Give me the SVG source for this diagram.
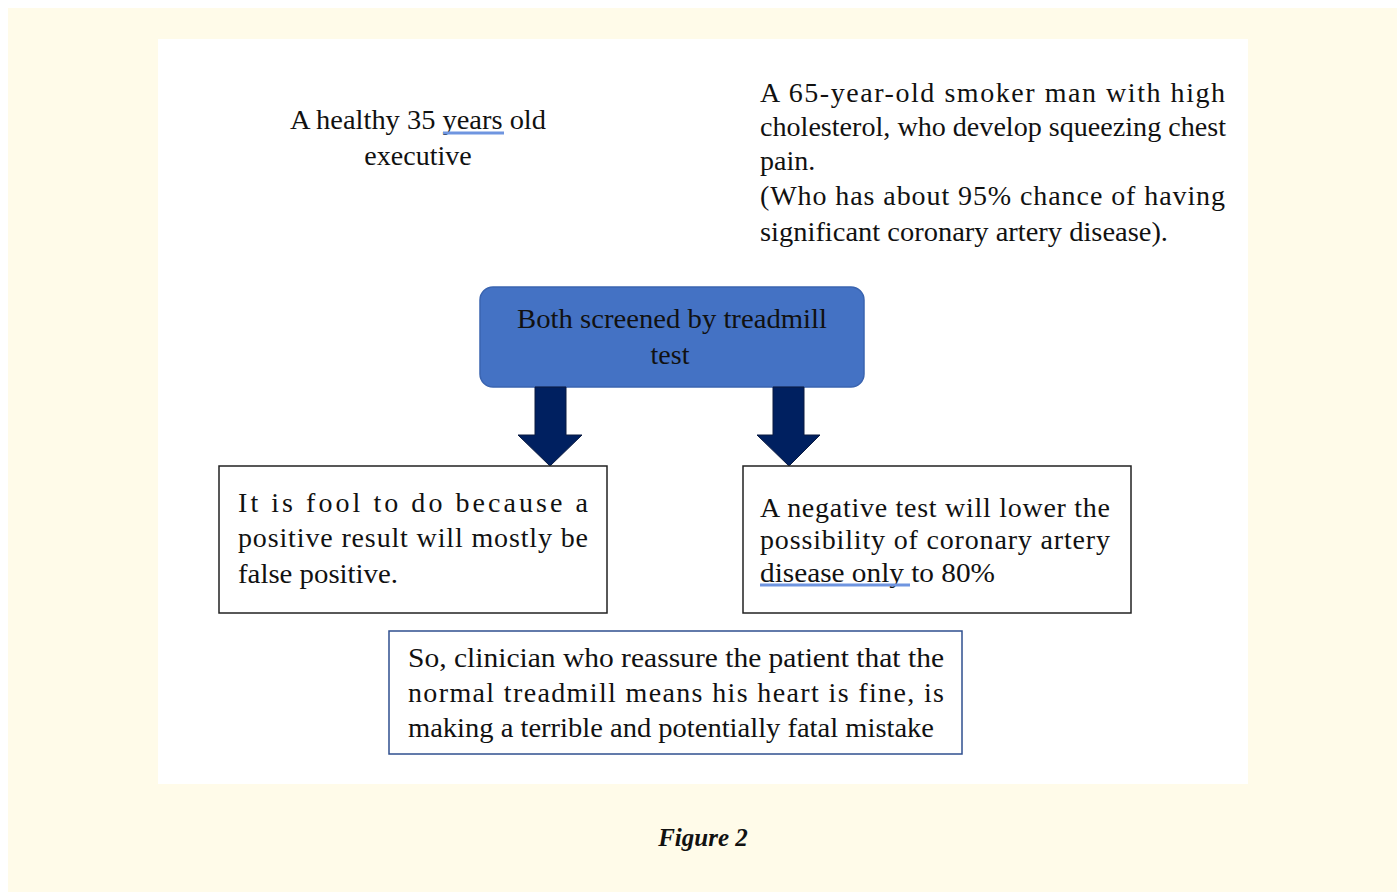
<svg xmlns="http://www.w3.org/2000/svg" width="1397" height="892" viewBox="0 0 1397 892">
<style>
.t{font-family:"Liberation Serif","Times New Roman",serif;font-size:28px;fill:#111;}
.box{fill:#fff;stroke:#222;stroke-width:1.5;}
.arrow{fill:#002060;stroke:#0a1a40;stroke-width:1;}
.sp{stroke:#6f95e0;stroke-width:3;fill:none;}
</style>
<rect x="0" y="0" width="1397" height="892" fill="#fff"/>
<rect x="8" y="8" width="1389" height="884" fill="#fffbe9"/>
<rect x="158" y="39" width="1090" height="745" fill="#fff"/>

<g id="healthy">
<text class="t" x="418" y="129" text-anchor="middle" textLength="256" lengthAdjust="spacingAndGlyphs">A healthy 35 years old</text>
<text class="t" x="418" y="165" text-anchor="middle">executive</text>
<line class="sp" x1="443" y1="133" x2="504" y2="133"/>
</g>

<g id="smoker">
<text class="t" x="760" y="102" textLength="465" lengthAdjust="spacing">A 65-year-old smoker man with high</text>
<text class="t" x="760" y="136" textLength="466" lengthAdjust="spacingAndGlyphs">cholesterol, who develop squeezing chest</text>
<text class="t" x="760" y="170">pain.</text>
<text class="t" x="760" y="205" textLength="465" lengthAdjust="spacing">(Who has about 95% chance of having</text>
<text class="t" x="760" y="241" textLength="408" lengthAdjust="spacingAndGlyphs">significant coronary artery disease).</text>
</g>

<g id="screened">
<rect x="480" y="287" width="384" height="100" rx="13" ry="13" fill="#4472c4" stroke="#3a64b0" stroke-width="1.5"/>
<text class="t" x="672" y="328" text-anchor="middle" textLength="310" lengthAdjust="spacingAndGlyphs">Both screened by treadmill</text>
<text class="t" x="670" y="364" text-anchor="middle">test</text>
</g>

<g id="connectors">
<polygon class="arrow" points="535,387 566,387 566,435 582,435 550,466 518,435 535,435"/>
<polygon class="arrow" points="773,387 804,387 804,435 820,435 789,466 757,435 773,435"/>
</g>

<g id="fool">
<rect class="box" x="219" y="466" width="388" height="147"/>
<text class="t" x="238" y="512" textLength="350" lengthAdjust="spacing">It is fool to do because a</text>
<text class="t" x="238" y="547" textLength="350" lengthAdjust="spacing">positive result will mostly be</text>
<text class="t" x="238" y="583" textLength="160" lengthAdjust="spacingAndGlyphs">false positive.</text>
</g>

<g id="negative">
<rect class="box" x="743" y="466" width="388" height="147"/>
<text class="t" x="760" y="517" textLength="350" lengthAdjust="spacing">A negative test will lower the</text>
<text class="t" x="760" y="549" textLength="350" lengthAdjust="spacing">possibility of coronary artery</text>
<text class="t" x="760" y="582" textLength="235" lengthAdjust="spacingAndGlyphs">disease  only to 80%</text>
<line class="sp" x1="760" y1="585" x2="910" y2="585"/>
</g>

<g id="clinician">
<rect x="389" y="631" width="573" height="123" fill="#fff" stroke="#2f4f8f" stroke-width="1.5"/>
<text class="t" x="408" y="667" textLength="536" lengthAdjust="spacingAndGlyphs">So, clinician who reassure the patient that the</text>
<text class="t" x="408" y="702" textLength="536" lengthAdjust="spacing">normal treadmill means his heart is fine, is</text>
<text class="t" x="408" y="737" textLength="526" lengthAdjust="spacingAndGlyphs">making a terrible and potentially fatal mistake</text>
</g>

<text x="703" y="846" text-anchor="middle" font-family="Liberation Serif, serif" font-weight="bold" font-style="italic" font-size="25" fill="#111">Figure 2</text>
</svg>
